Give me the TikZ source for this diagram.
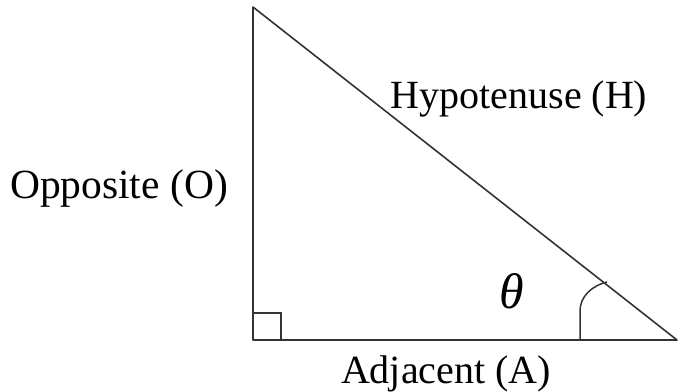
\documentclass[tikz,border=0pt]{standalone}
\usepackage{fontspec}
\setmainfont{Liberation Serif}
\begin{document}
\begin{tikzpicture}[x=1pt,y=-1pt,
  edge/.style={line width=1.6pt,draw=black!80,line cap=round,line join=round},
  thin edge/.style={line width=1.5pt,draw=black!80},
  lbl/.style={font=\fontsize{40}{44}\selectfont,inner sep=0pt,anchor=base}]
\useasboundingbox (0,0) rectangle (682,391);
\coordinate (T) at (253,7);
\coordinate (C) at (253,340);
\coordinate (R) at (677,340);
\draw[edge] (T) -- (C) -- (R) -- cycle;
% right angle mark
\coordinate (s1) at (253,313);
\coordinate (s2) at (281,313);
\coordinate (s3) at (281,340);
\draw[thin edge] (s1) -- (s2) -- (s3);
% angle arc
\coordinate (a0) at (580,340);
\coordinate (a1) at (580,311);
\coordinate (a2) at (607,282);
\draw[thin edge] (a0) -- (a1) .. controls (580,297) and (591,286) .. (a2);
% labels
\node[lbl] (hyp) at (519,108) {Hypotenuse (H)};
\node[lbl,font=\fontsize{41.5}{44}\selectfont] (opp) at (119,198) {Opposite (O)};
\node[lbl] (adj) at (446,383) {Adjacent (A)};
\node[inner sep=0pt,font=\fontsize{50}{56}\selectfont\itshape] (th) at (512,291) {θ};
\end{tikzpicture}
\end{document}
